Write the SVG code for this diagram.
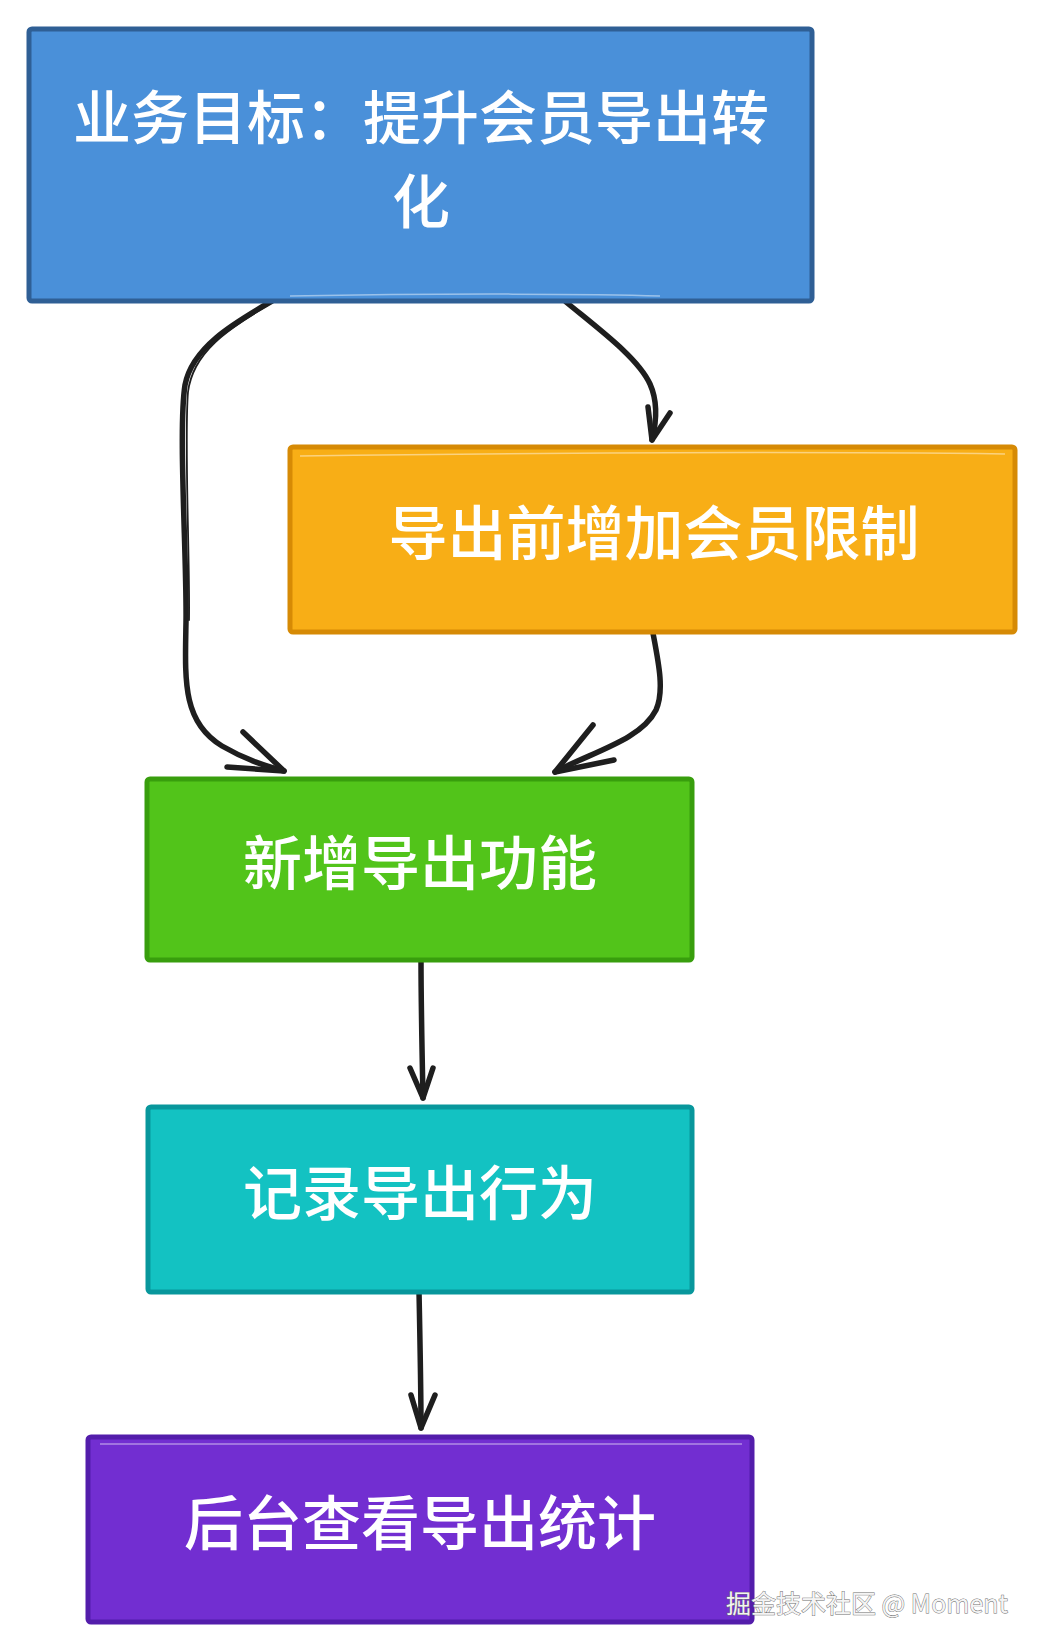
<svg xmlns="http://www.w3.org/2000/svg" width="1042" height="1650" viewBox="0 0 1042 1650">
<style>
.lbl{font-family:"Noto Sans CJK SC","Noto Sans",sans-serif;font-size:59px;font-weight:500;fill:#ffffff;text-anchor:middle}
.edge{fill:none;stroke:#1e1e1e;stroke-width:5.5;stroke-linecap:round;stroke-linejoin:round}
.edge2{fill:none;stroke:#1e1e1e;stroke-width:1.8;stroke-linecap:round}
.head{fill:none;stroke:#1e1e1e;stroke-width:5.5;stroke-linecap:round;stroke-linejoin:round}
.box{stroke-width:5;stroke-linejoin:round}
.hl{fill:none;stroke:#ffffff;stroke-opacity:0.45;stroke-width:1.5}
.wm{font-family:"Noto Sans CJK SC","Noto Sans",sans-serif;font-size:25px;fill:#f4f4f4;stroke:#6e6e6e;stroke-width:0.9;paint-order:stroke}
</style>
<rect x="0" y="0" width="1042" height="1650" fill="#ffffff"/>

<g id="connectors">
  <!-- goal -> new export (left curve) -->
  <path class="edge" d="M272,301 C232,324 192,348 185,385 C178,430 187,560 186,622 C185,680 182,722 222,746 C246,760 266,766 284,771"/>
  <path class="edge2" d="M268,305 C228,329 193,352 188,392 C184,440 190,560 189,620"/>
  <path class="head" d="M243,732 L284,771 L227,767"/>
  <!-- goal -> limit -->
  <path class="edge" d="M566,302 C600,330 638,358 650,384 C659,404 656,424 652,440"/>
  <path class="head" d="M648,407 L652,440 L670,413"/>
  <!-- limit -> new export -->
  <path class="edge" d="M652,628 C658,660 665,690 656,710 C641,740 592,752 555,772"/>
  <path class="head" d="M593,725 L555,772 L614,760"/>
  <!-- new export -> record -->
  <path class="edge" d="M421,960 C421,1000 422,1050 423,1098"/>
  <path class="head" d="M410,1068 L423,1098 L433,1068"/>
  <!-- record -> stats -->
  <path class="edge" d="M419,1291 C420,1340 421,1390 421,1428"/>
  <path class="head" d="M411,1395 L421,1428 L435,1395"/>
</g>

<g id="node-goal">
  <rect class="box" x="29" y="29" width="783" height="272" rx="3" fill="#4a90d9" stroke="#2f5f95"/>
  <path class="hl" d="M290,296 C450,293 600,294 660,296"/>
  <text class="lbl" x="421" y="139" style="font-size:58px">业务目标：提升会员导出转<tspan x="421" dy="84">化</tspan></text>
</g>

<g id="node-limit">
  <rect class="box" x="290" y="447" width="725" height="185" rx="3" fill="#f8ae16" stroke="#d68a05"/>
  <path class="hl" d="M300,456 C600,452 850,452 1005,454"/>
  <text class="lbl" x="654" y="555">导出前增加会员限制</text>
</g>

<g id="node-new">
  <rect class="box" x="147" y="779" width="545" height="181" rx="3" fill="#52c41a" stroke="#389e0d"/>
  <text class="lbl" x="420" y="885">新增导出功能</text>
</g>

<g id="node-record">
  <rect class="box" x="148" y="1107" width="544" height="185" rx="3" fill="#13c2c2" stroke="#08979c"/>
  <text class="lbl" x="420" y="1215">记录导出行为</text>
</g>

<g id="node-stats">
  <rect class="box" x="88" y="1437" width="664" height="185" rx="3" fill="#722ed1" stroke="#531dab"/>
  <path class="hl" d="M100,1444 C400,1442 600,1442 742,1444"/>
  <text class="lbl" x="420" y="1545">后台查看导出统计</text>
</g>

<text class="wm" x="1008" y="1613" text-anchor="end">掘金技术社区 @ Moment</text>
</svg>
